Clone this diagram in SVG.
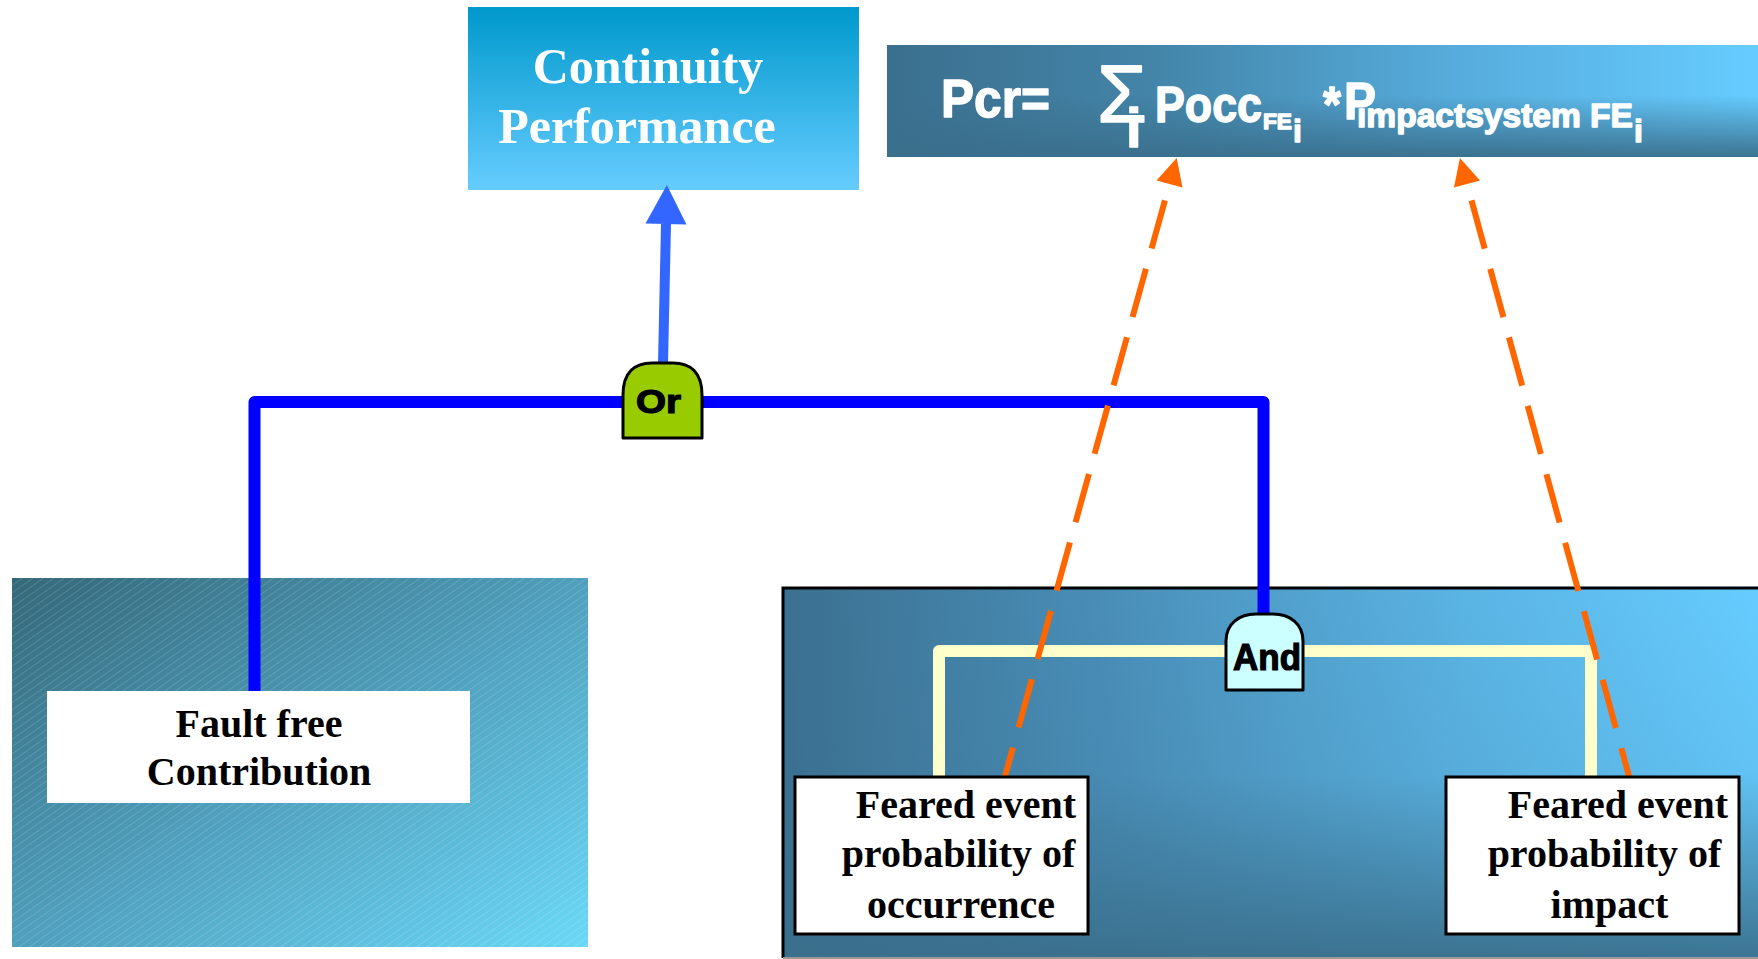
<svg xmlns="http://www.w3.org/2000/svg" width="1758" height="959" viewBox="0 0 1758 959">
  <defs>
    <style>
      .serif { font-family: "Liberation Serif", "Times New Roman", serif; font-weight: bold; }
      .sans { font-family: "Liberation Sans", Arial, sans-serif; font-weight: bold; }
      .title { font-size: 50px; fill: #ffffff; text-anchor: middle; }
      .label { font-size: 40px; fill: #000000; text-anchor: middle; }
      .formula { fill: #ffffff; stroke: #ffffff; stroke-width: 1.4; stroke-linejoin: round; }
      .gate-text { fill: #000000; stroke: #000000; stroke-width: 1.2; }
      .gate { stroke: #000000; stroke-width: 3; stroke-linejoin: round; }
      .box { fill: #ffffff; stroke: #000000; stroke-width: 3; }
      .wire-blue { fill: none; stroke: #0000ff; stroke-width: 12; stroke-linejoin: round; }
      .wire-cream { fill: none; stroke: #ffffcc; stroke-width: 12; stroke-linejoin: round; }
      .dep { fill: none; stroke: #ff6600; stroke-width: 6; stroke-dasharray: 50 21; stroke-dashoffset: 54; }
    </style>

    <linearGradient id="contGrad" x1="0" y1="0" x2="0" y2="1">
      <stop offset="0" stop-color="#0099cc"/>
      <stop offset="1" stop-color="#66ccff"/>
    </linearGradient>

    <linearGradient id="barH" gradientUnits="userSpaceOnUse" x1="887" y1="0" x2="1758" y2="0">
      <stop offset="0" stop-color="#3b6f8e"/>
      <stop offset="0.3" stop-color="#4384a8"/>
      <stop offset="0.65" stop-color="#56acdc"/>
      <stop offset="1" stop-color="#66ccff"/>
    </linearGradient>
    <linearGradient id="barV" x1="0" y1="0" x2="0" y2="1">
      <stop offset="0" stop-color="#3a6f8c" stop-opacity="0"/>
      <stop offset="0.45" stop-color="#3a6f8c" stop-opacity="0"/>
      <stop offset="1" stop-color="#3a6f8c" stop-opacity="0.95"/>
    </linearGradient>

    <linearGradient id="leftGrad" x1="0" y1="0" x2="1" y2="1">
      <stop offset="0" stop-color="#346879"/>
      <stop offset="0.5" stop-color="#4f9fbd"/>
      <stop offset="1" stop-color="#6ad8f7"/>
    </linearGradient>
    <pattern id="hatch" patternUnits="userSpaceOnUse" width="6" height="6" patternTransform="rotate(-35)">
      <line x1="0" y1="0.5" x2="6" y2="0.5" stroke="#ffffff" stroke-opacity="0.18" stroke-width="0.8"/>
    </pattern>

    <linearGradient id="rightH" gradientUnits="userSpaceOnUse" x1="783" y1="0" x2="1758" y2="0">
      <stop offset="0" stop-color="#3b7090"/>
      <stop offset="0.35" stop-color="#4a90ba"/>
      <stop offset="0.7" stop-color="#5ab4e4"/>
      <stop offset="1" stop-color="#66ccff"/>
    </linearGradient>
    <linearGradient id="rightV" x1="0" y1="0" x2="0" y2="1">
      <stop offset="0" stop-color="#3a6f8c" stop-opacity="0"/>
      <stop offset="0.5" stop-color="#3a6f8c" stop-opacity="0.1"/>
      <stop offset="1" stop-color="#3a6f8c" stop-opacity="0.95"/>
    </linearGradient>

    <marker id="headOrange" markerUnits="userSpaceOnUse" markerWidth="30" markerHeight="30" viewBox="0 -15 30 30" refX="0" refY="0" orient="auto-start-reverse" overflow="visible">
      <path d="M0,-13.5 L27,0 L0,13.5 Z" fill="#ff6600"/>
    </marker>
    <marker id="headBlue" markerUnits="userSpaceOnUse" markerWidth="42" markerHeight="44" viewBox="0 -22 42 44" refX="0" refY="0" orient="auto" overflow="visible">
      <path d="M0,-20.5 L39,0 L0,20.5 Z" fill="#3366ff"/>
    </marker>
  </defs>

  <rect width="1758" height="959" fill="#ffffff"/>

  <!-- background panels -->
  <g id="panel-fault-free">
    <rect x="12" y="578" width="576" height="369" fill="url(#leftGrad)"/>
    <rect x="12" y="578" width="576" height="369" fill="url(#hatch)"/>
  </g>
  <g id="panel-feared-events">
    <rect x="783" y="588" width="975" height="371" fill="url(#rightH)"/>
    <rect x="783" y="588" width="975" height="371" fill="url(#rightV)"/>
    <path d="M783,958 V588 H1758" fill="none" stroke="#000000" stroke-width="3"/>
    <line x1="783" y1="958" x2="1758" y2="958" stroke="#9a9a9a" stroke-width="2"/>
  </g>

  <!-- top nodes -->
  <g id="continuity-performance">
    <rect x="468" y="7" width="391" height="183" fill="url(#contGrad)"/>
    <text class="serif title" x="648" y="83">Continuity</text>
    <text class="serif title" x="637" y="143">Performance</text>
  </g>

  <g id="pcr-formula">
    <rect x="887" y="45" width="871" height="112" fill="url(#barH)"/>
    <rect x="887" y="45" width="871" height="112" fill="url(#barV)"/>
    <!-- Pcr = Σi Pocc(FEi) * Pimpactsystem(FEi), set as one text run -->
    <text class="sans formula"><tspan x="941" y="117" font-size="53" textLength="109" lengthAdjust="spacingAndGlyphs">Pcr=</tspan><tspan x="1097" y="122" font-size="82" font-weight="normal" textLength="50" lengthAdjust="spacingAndGlyphs">Σ</tspan><tspan x="1126" y="147" font-size="56">i</tspan><tspan x="1155" y="122" font-size="50" textLength="107" lengthAdjust="spacingAndGlyphs">Pocc</tspan><tspan x="1263" y="129" font-size="22" textLength="29" lengthAdjust="spacingAndGlyphs">FE</tspan><tspan x="1293" y="142" font-size="32">i</tspan><tspan x="1323" y="122" font-size="50" textLength="18" lengthAdjust="spacingAndGlyphs">*</tspan><tspan x="1344" y="119" font-size="52" textLength="32" lengthAdjust="spacingAndGlyphs">P</tspan><tspan x="1357" y="127" font-size="34" textLength="276" lengthAdjust="spacingAndGlyphs">impactsystem FE</tspan><tspan x="1634" y="142" font-size="32">i</tspan></text>
  </g>

  <!-- connectors -->
  <g id="connectors">
    <path class="wire-blue" d="M254.5,691 V402 H1263.5 V614"/>
    <path d="M663,364 L666,224" fill="none" stroke="#3366ff" stroke-width="10" marker-end="url(#headBlue)"/>
    <path class="wire-cream" d="M939,777 V651 H1591 V777"/>
    <path class="dep" d="M1169.5,184 L1004.5,778" marker-start="url(#headOrange)"/>
    <path class="dep" d="M1467,184 L1629.5,778" marker-start="url(#headOrange)"/>
  </g>

  <!-- gates -->
  <g id="gate-or">
    <path class="gate" fill="#99cc00" d="M623,438 V395 C623,372 635,363 652,363 H673 C690,363 702,372 702,395 V438 Z"/>
    <text class="sans gate-text" x="636" y="413" font-size="33" textLength="45" lengthAdjust="spacingAndGlyphs">Or</text>
  </g>
  <g id="gate-and">
    <path class="gate" fill="#ccffff" d="M1226,690 V641 C1226,624 1239,614 1256,614 H1273 C1290,614 1303,624 1303,641 V690 Z"/>
    <text class="sans gate-text" x="1233" y="670" font-size="36" textLength="68" lengthAdjust="spacingAndGlyphs">And</text>
  </g>

  <!-- leaf events -->
  <g id="fault-free-contribution">
    <rect x="47" y="691" width="423" height="112" fill="#ffffff"/>
    <text class="serif label" x="259" y="737">Fault free</text>
    <text class="serif label" x="259" y="785">Contribution</text>
  </g>
  <g id="feared-event-occurrence">
    <rect class="box" x="795" y="777" width="293" height="157"/>
    <text class="serif label" x="966" y="818">Feared event</text>
    <text class="serif label" x="958.5" y="867">probability of</text>
    <text class="serif label" x="961" y="918">occurrence</text>
  </g>
  <g id="feared-event-impact">
    <rect class="box" x="1446" y="777" width="293" height="157"/>
    <text class="serif label" x="1618" y="818">Feared event</text>
    <text class="serif label" x="1604.5" y="867">probability of</text>
    <text class="serif label" x="1609.5" y="918">impact</text>
  </g>
</svg>
